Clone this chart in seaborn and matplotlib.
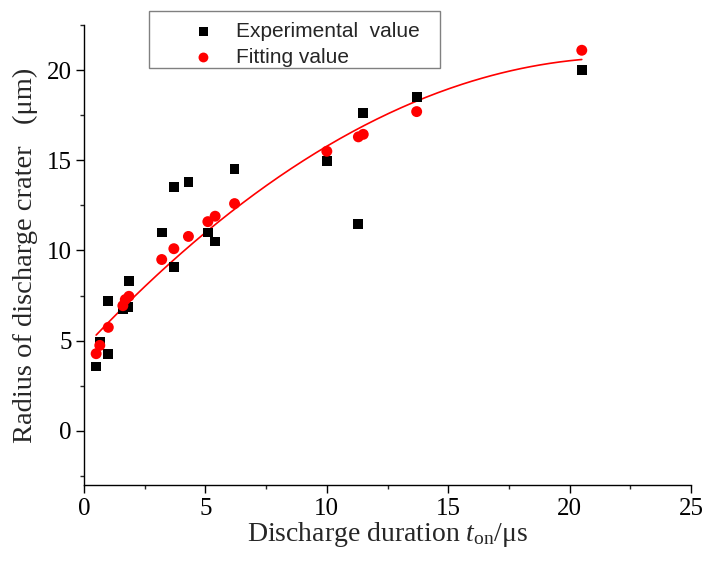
import numpy as np
import pandas as pd
import matplotlib
matplotlib.use("Agg")
import matplotlib.pyplot as plt
import seaborn as sns
from matplotlib.ticker import MultipleLocator
from matplotlib.patches import Rectangle

# experimental values (black squares)
exp_t = [0.5, 0.65, 1.0, 1.0, 1.6, 1.8, 1.85, 3.2, 3.7, 3.7, 4.3, 5.1, 5.4, 6.2,
         10.0, 11.3, 11.5, 13.7, 20.5]
exp_r = [3.57, 4.96, 4.28, 7.2, 6.76, 6.87, 8.3, 11.0, 9.07, 13.5, 13.8, 11.0, 10.5, 14.5,
         14.96, 11.48, 17.6, 18.5, 20.0]

# fitting values (red circles)
fit_t = [0.5, 0.65, 1.0, 1.6, 1.7, 1.85, 3.2, 3.7, 4.3, 5.1, 5.4, 6.2,
         10.0, 11.3, 11.5, 13.7, 20.5]
fit_r = [4.28, 4.74, 5.74, 6.94, 7.28, 7.46, 9.5, 10.1, 10.78, 11.6, 11.9, 12.6,
         15.5, 16.3, 16.44, 17.7, 21.1]

# fitted curve (quadratic, coefficients), drawn over t range
curve_coef = [-0.0322, 1.44, 4.6]
curve_range = [0.5, 20.5]

exp_df = pd.DataFrame({"t": exp_t, "r": exp_r})
fit_df = pd.DataFrame({"t": fit_t, "r": fit_r})
tt = np.linspace(curve_range[0], curve_range[1], 200)
curve_df = pd.DataFrame({"t": tt, "r": np.polyval(curve_coef, tt)})

sns.set_style("ticks")
plt.rcParams["font.family"] = ["Liberation Serif", "DejaVu Serif"]
plt.rcParams["mathtext.fontset"] = "custom"
plt.rcParams["mathtext.rm"] = "Liberation Serif"
plt.rcParams["mathtext.it"] = "Liberation Serif:italic"

fig = plt.figure(figsize=(7.15, 5.62), dpi=100)
ax = fig.add_axes([0.1175, 0.137, 0.849, 0.8185])

sns.lineplot(data=curve_df, x="t", y="r", color="#ff0000", lw=1.2, ax=ax, zorder=2)
sns.scatterplot(data=exp_df, x="t", y="r", marker="s", color="black", s=50,
                edgecolor="none", label="Experimental  value", ax=ax, zorder=3)
sns.scatterplot(data=fit_df, x="t", y="r", marker="o", color="#ff0000", s=62,
                edgecolor="none", label="Fitting value", ax=ax, zorder=4)

ax.set_xlim(0, 25)
ax.set_ylim(-3, 22.5)
ax.xaxis.set_major_locator(MultipleLocator(5))
ax.xaxis.set_minor_locator(MultipleLocator(2.5))
ax.yaxis.set_major_locator(MultipleLocator(5))
ax.yaxis.set_minor_locator(MultipleLocator(2.5))
ax.tick_params(which="major", direction="out", length=6, width=1, labelsize=18,
               colors="black", pad=3)
ax.tick_params(which="minor", direction="out", length=3, width=1)
sns.despine(ax=ax)
for s in ["left", "bottom"]:
    ax.spines[s].set_color("black")
    ax.spines[s].set_linewidth(1)

ax.set_xlabel(r"Discharge duration $\mathit{t}_{\mathrm{on}}$/μs", fontsize=20, labelpad=0)
ax.set_ylabel("Radius of discharge crater   (μm)", fontsize=20.5, labelpad=6)

leg = ax.legend(loc="upper left", bbox_to_anchor=(0.2554, 0.980),
                bbox_transform=fig.transFigure, frameon=False,
                prop={"family": "Liberation Sans", "size": 15}, borderpad=0,
                handletextpad=1.04, handlelength=1.0, labelspacing=0.35, markerscale=0.9)

# legend frame
fig.patches.append(Rectangle((149 / 715, 1 - 68 / 562), 291 / 715, 57 / 562,
                             transform=fig.transFigure, fill=False,
                             edgecolor="#808080", lw=1))

fig.savefig("out.png", dpi=100)
